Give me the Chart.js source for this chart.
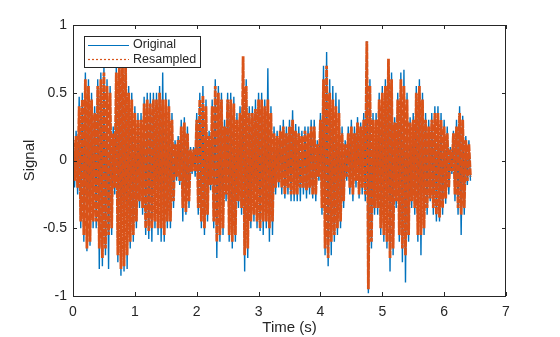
<!DOCTYPE html>
<html>
<head>
<meta charset="utf-8">
<script src="https://cdn.jsdelivr.net/npm/chart.js@4.4.1/dist/chart.umd.min.js"></script>
<style>
  html, body { margin: 0; padding: 0; background: #fff; }
</style>
</head>
<body>
<canvas id="signalChart" width="560" height="337"></canvas>
<script>
const times = [
  0.00, 0.05, 0.10, 0.15, 0.20, 0.25, 0.30, 0.35, 0.40, 0.45,
  0.50, 0.55, 0.60, 0.65, 0.70, 0.75, 0.80, 0.85, 0.90, 0.95,
  1.00, 1.05, 1.10, 1.15, 1.20, 1.25, 1.30, 1.35, 1.40, 1.45,
  1.50, 1.55, 1.60, 1.65, 1.70, 1.75, 1.80, 1.85, 1.90, 1.95,
  2.00, 2.05, 2.10, 2.15, 2.20, 2.25, 2.30, 2.35, 2.40, 2.45,
  2.50, 2.55, 2.60, 2.65, 2.70, 2.75, 2.80, 2.85, 2.90, 2.95,
  3.00, 3.05, 3.10, 3.15, 3.20, 3.25, 3.30, 3.35, 3.40, 3.45,
  3.50, 3.55, 3.60, 3.65, 3.70, 3.75, 3.80, 3.85, 3.90, 3.95,
  4.00, 4.05, 4.10, 4.15, 4.20, 4.25, 4.30, 4.35, 4.40, 4.45,
  4.50, 4.55, 4.60, 4.65, 4.70, 4.75, 4.80, 4.85, 4.90, 4.95,
  5.00, 5.05, 5.10, 5.15, 5.20, 5.25, 5.30, 5.35, 5.40, 5.45,
  5.50, 5.55, 5.60, 5.65, 5.70, 5.75, 5.80, 5.85, 5.90, 5.95,
  6.00, 6.05, 6.10, 6.15, 6.20, 6.25, 6.30, 6.35, 6.40
];

// Original signal: positive and negative peaks
const originalPeaks = [
  0.18, 0.22, 0.47, 0.50, 0.65, 0.60, 0.50, 0.40, 0.60, 0.65,
  0.70, 0.60, 0.55, 0.25, 0.70, 0.72, 0.72, 0.72, 0.55, 0.50,
  0.40, 0.35, 0.35, 0.47, 0.50, 0.50, 0.50, 0.50, 0.55, 0.65,
  0.50, 0.45, 0.35, 0.15, 0.18, 0.30, 0.32, 0.25, 0.10, 0.10,
  0.35, 0.50, 0.55, 0.45, 0.22, 0.45, 0.60, 0.55, 0.50, 0.30,
  0.50, 0.50, 0.47, 0.35, 0.40, 0.72, 0.60, 0.40, 0.40, 0.45,
  0.50, 0.50, 0.45, 0.68, 0.40, 0.25, 0.22, 0.26, 0.30, 0.25,
  0.30, 0.37, 0.27, 0.25, 0.22, 0.25, 0.25, 0.30, 0.30, 0.15,
  0.35, 0.70, 0.80, 0.60, 0.55, 0.50, 0.45, 0.25, 0.15, 0.25,
  0.30, 0.25, 0.32, 0.28, 0.35, 0.88, 0.60, 0.35, 0.35, 0.50,
  0.55, 0.60, 0.70, 0.65, 0.32, 0.50, 0.65, 0.67, 0.50, 0.32,
  0.35, 0.55, 0.60, 0.50, 0.35, 0.30, 0.35, 0.40, 0.40, 0.35,
  0.30, 0.25, 0.10, 0.22, 0.30, 0.40, 0.33, 0.18, 0.15
];
const originalTroughs = [
  -0.20, -0.25, -0.50, -0.60, -0.67, -0.63, -0.50, -0.50, -0.80, -0.78,
  -0.70, -0.80, -0.55, -0.25, -0.75, -0.85, -0.82, -0.80, -0.65, -0.60,
  -0.50, -0.35, -0.40, -0.55, -0.58, -0.60, -0.50, -0.55, -0.60, -0.60,
  -0.50, -0.50, -0.35, -0.15, -0.18, -0.45, -0.40, -0.35, -0.10, -0.12,
  -0.40, -0.50, -0.55, -0.45, -0.22, -0.50, -0.72, -0.60, -0.55, -0.30,
  -0.60, -0.65, -0.60, -0.35, -0.40, -0.82, -0.72, -0.50, -0.45, -0.50,
  -0.52, -0.55, -0.50, -0.60, -0.55, -0.25, -0.20, -0.25, -0.28, -0.25,
  -0.30, -0.30, -0.30, -0.30, -0.25, -0.28, -0.25, -0.28, -0.30, -0.15,
  -0.40, -0.70, -0.78, -0.70, -0.60, -0.55, -0.50, -0.35, -0.15, -0.25,
  -0.30, -0.20, -0.28, -0.25, -0.30, -0.98, -0.65, -0.40, -0.40, -0.55,
  -0.60, -0.65, -0.82, -0.70, -0.35, -0.60, -0.75, -0.90, -0.60, -0.35,
  -0.40, -0.60, -0.70, -0.55, -0.40, -0.30, -0.40, -0.45, -0.45, -0.40,
  -0.32, -0.25, -0.10, -0.30, -0.40, -0.55, -0.40, -0.18, -0.15
];

// Resampled signal: positive and negative peaks
const resampledPeaks = [
  0.15, 0.18, 0.40, 0.45, 0.60, 0.55, 0.45, 0.35, 0.55, 0.60,
  0.65, 0.55, 0.50, 0.20, 0.65, 0.75, 0.72, 0.70, 0.50, 0.45,
  0.35, 0.30, 0.30, 0.42, 0.45, 0.42, 0.45, 0.45, 0.50, 0.45,
  0.45, 0.40, 0.30, 0.12, 0.15, 0.25, 0.28, 0.20, 0.08, 0.08,
  0.30, 0.45, 0.48, 0.40, 0.18, 0.40, 0.55, 0.50, 0.45, 0.25,
  0.45, 0.45, 0.42, 0.30, 0.35, 0.77, 0.55, 0.35, 0.35, 0.38,
  0.45, 0.45, 0.40, 0.45, 0.35, 0.20, 0.18, 0.22, 0.25, 0.20,
  0.25, 0.30, 0.22, 0.20, 0.18, 0.22, 0.20, 0.25, 0.25, 0.12,
  0.30, 0.60, 0.70, 0.50, 0.45, 0.40, 0.35, 0.20, 0.12, 0.20,
  0.25, 0.20, 0.28, 0.25, 0.30, 0.88, 0.55, 0.30, 0.30, 0.45,
  0.50, 0.55, 0.75, 0.60, 0.28, 0.45, 0.60, 0.55, 0.45, 0.28,
  0.30, 0.50, 0.55, 0.45, 0.30, 0.25, 0.30, 0.35, 0.35, 0.30,
  0.25, 0.20, 0.08, 0.20, 0.25, 0.35, 0.30, 0.15, 0.12
];
const resampledTroughs = [
  -0.15, -0.20, -0.45, -0.55, -0.65, -0.60, -0.45, -0.45, -0.65, -0.72,
  -0.65, -0.55, -0.50, -0.20, -0.70, -0.80, -0.78, -0.70, -0.60, -0.55,
  -0.45, -0.30, -0.35, -0.50, -0.52, -0.50, -0.45, -0.50, -0.50, -0.55,
  -0.45, -0.45, -0.30, -0.12, -0.15, -0.35, -0.38, -0.30, -0.08, -0.08,
  -0.35, -0.45, -0.50, -0.40, -0.18, -0.45, -0.60, -0.55, -0.50, -0.25,
  -0.55, -0.60, -0.55, -0.30, -0.35, -0.70, -0.65, -0.45, -0.40, -0.45,
  -0.50, -0.45, -0.45, -0.50, -0.45, -0.20, -0.16, -0.20, -0.25, -0.20,
  -0.25, -0.25, -0.25, -0.20, -0.20, -0.22, -0.20, -0.25, -0.25, -0.12,
  -0.35, -0.65, -0.72, -0.60, -0.55, -0.50, -0.45, -0.30, -0.12, -0.20,
  -0.25, -0.15, -0.25, -0.20, -0.25, -0.95, -0.60, -0.35, -0.35, -0.50,
  -0.55, -0.60, -0.72, -0.65, -0.30, -0.55, -0.65, -0.70, -0.55, -0.30,
  -0.35, -0.55, -0.55, -0.50, -0.35, -0.28, -0.35, -0.40, -0.42, -0.35,
  -0.28, -0.20, -0.08, -0.25, -0.35, -0.40, -0.35, -0.15, -0.12
];

const xTicks = [0, 1, 2, 3, 4, 5, 6, 7];
const yTicks = [-1, -0.5, 0, 0.5, 1];
const seriesNames = ['Original', 'Resampled'];

const BLUE = '#0072BD';
const ORANGE = '#D95319';
const AXIS = '#262626';
const FONT = '"Liberation Sans", Arial, Helvetica, sans-serif';

// swing between peak and trough so the trace fills its envelope
function zigzag(peaks, troughs) {
  const pts = [];
  for (let i = 0; i < times.length; i++) {
    const half = i < times.length - 1 ? (times[i + 1] - times[i]) / 2 : (times[i] - times[i - 1]) / 2;
    pts.push({ x: times[i], y: peaks[i] });
    pts.push({ x: times[i] + half, y: troughs[i] });
  }
  return pts;
}

// box with inward ticks + legend, MATLAB style
const axesBox = {
  id: 'axesBox',
  afterDraw(chart) {
    const { ctx, chartArea: a, scales } = chart;
    ctx.save();
    ctx.strokeStyle = AXIS;
    ctx.lineWidth = 1;
    ctx.strokeRect(Math.round(a.left) + 0.5, Math.round(a.top) + 0.5,
      Math.round(a.right - a.left) - 1, Math.round(a.bottom - a.top));
    ctx.beginPath();
    xTicks.forEach(v => {
      const px = Math.round(scales.x.getPixelForValue(v)) + 0.5;
      ctx.moveTo(px, a.bottom); ctx.lineTo(px, a.bottom - 4);
      ctx.moveTo(px, a.top); ctx.lineTo(px, a.top + 4);
    });
    yTicks.forEach(v => {
      const py = Math.round(scales.y.getPixelForValue(v)) + 0.5;
      ctx.moveTo(a.left, py); ctx.lineTo(a.left + 4, py);
      ctx.moveTo(a.right, py); ctx.lineTo(a.right - 4, py);
    });
    ctx.stroke();

    // legend
    const lx = 84.5, ly = 36.5, lw = 116, lh = 31;
    ctx.fillStyle = '#fff';
    ctx.fillRect(lx, ly, lw, lh);
    ctx.strokeStyle = AXIS;
    ctx.strokeRect(lx, ly, lw, lh);

    ctx.lineWidth = 1.2;
    ctx.strokeStyle = BLUE;
    ctx.beginPath();
    ctx.moveTo(88, 45.5); ctx.lineTo(129, 45.5);
    ctx.stroke();

    ctx.strokeStyle = ORANGE;
    ctx.setLineDash([2, 2]);
    ctx.beginPath();
    ctx.moveTo(88, 59.5); ctx.lineTo(129, 59.5);
    ctx.stroke();
    ctx.setLineDash([]);

    ctx.fillStyle = AXIS;
    ctx.font = '12.5px ' + FONT;
    ctx.textBaseline = 'middle';
    ctx.textAlign = 'left';
    ctx.fillText(seriesNames[0], 133, 45);
    ctx.fillText(seriesNames[1], 133, 60);
    ctx.restore();
  }
};

Chart.defaults.font.family = FONT;
Chart.defaults.color = AXIS;

const ctx = document.getElementById('signalChart').getContext('2d');
new Chart(ctx, {
  type: 'line',
  data: {
    datasets: [
      {
        label: seriesNames[0],
        data: zigzag(originalPeaks, originalTroughs),
        borderColor: BLUE,
        borderWidth: 1.4,
        pointRadius: 0,
        tension: 0,
        fill: false,
        order: 2
      },
      {
        label: seriesNames[1],
        data: zigzag(resampledPeaks, resampledTroughs),
        borderColor: ORANGE,
        borderWidth: 2.8,
        borderDash: [7, 1],
        pointRadius: 0,
        tension: 0,
        fill: false,
        order: 1
      }
    ]
  },
  options: {
    responsive: false,
    animation: false,
    parsing: false,
    layout: { padding: { left: 0, right: 54, top: 25, bottom: 0 } },
    plugins: {
      legend: { display: false },
      tooltip: { enabled: false }
    },
    scales: {
      x: {
        type: 'linear',
        min: 0,
        max: 7,
        afterFit: s => { s.height = 41; },
        afterBuildTicks: s => { s.ticks = xTicks.map(v => ({ value: v })); },
        grid: { display: false, drawTicks: false },
        border: { display: false },
        ticks: { font: { size: 14 }, padding: 8, maxRotation: 0 },
        title: { display: true, text: 'Time (s)', font: { size: 15 }, padding: { top: 0, bottom: 0 } }
      },
      y: {
        min: -1,
        max: 1,
        afterFit: s => { s.width = 73; },
        afterBuildTicks: s => { s.ticks = yTicks.map(v => ({ value: v })); },
        grid: { display: false, drawTicks: false },
        border: { display: false },
        ticks: { font: { size: 14 }, padding: 6, callback: v => String(v) },
        title: { display: true, text: 'Signal', font: { size: 15 }, padding: { top: 21, bottom: 0 } }
      }
    }
  },
  plugins: [axesBox]
});
</script>
</body>
</html>
